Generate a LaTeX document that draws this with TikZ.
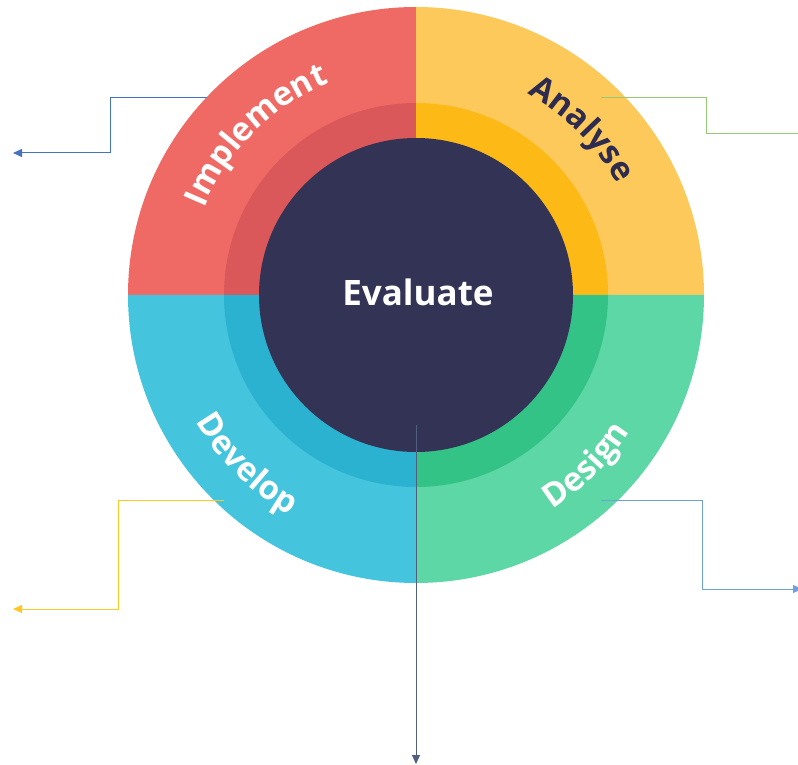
\documentclass[tikz,border=0pt]{standalone}
\usepackage{fontspec}
\setmainfont{Open Sans}
\usetikzlibrary{arrows.meta}
\usetikzlibrary{decorations.text}

\definecolor{implout}{HTML}{F06A65}
\definecolor{implin}{HTML}{DA575A}
\definecolor{anaout}{HTML}{FDC95B}
\definecolor{anain}{HTML}{FDB916}
\definecolor{desout}{HTML}{5DD7A5}
\definecolor{desin}{HTML}{33C387}
\definecolor{devout}{HTML}{45C4DD}
\definecolor{devin}{HTML}{2AB2D0}
\definecolor{evalbg}{HTML}{333355}
\definecolor{darktext}{HTML}{2D2B4F}

\newcommand{\arcfont}{\bfseries\fontsize{33}{33}\selectfont}

\tikzset{
  link/.style={line width=1pt},
  tip/.style={-{Triangle[length=9pt,width=8pt]}},
  arclabel/.style={decorate, decoration={text along path, text align=center, text={#1}}}
}

\begin{document}
\begin{tikzpicture}[x=1pt,y=1pt]
    \clip (0,0) rectangle (798,764); % page size
    \coordinate (c) at (416,469); % centre of the wheel

    % outer quarters
    \fill[implout] (c) -- ++(180:288) arc[start angle=180,end angle=90,radius=288pt] -- cycle;
    \fill[anaout] (c) -- ++(90:288) arc[start angle=90,end angle=0,radius=288pt] -- cycle;
    \fill[desout] (c) -- ++(0:288) arc[start angle=0,end angle=-90,radius=288pt] -- cycle;
    \fill[devout] (c) -- ++(-90:288) arc[start angle=-90,end angle=-180,radius=288pt] -- cycle;
    % inner ring
    \fill[implin] (c) -- ++(180:192) arc[start angle=180,end angle=90,radius=192pt] -- cycle;
    \fill[anain] (c) -- ++(90:192) arc[start angle=90,end angle=0,radius=192pt] -- cycle;
    \fill[desin] (c) -- ++(0:192) arc[start angle=0,end angle=-90,radius=192pt] -- cycle;
    \fill[devin] (c) -- ++(-90:192) arc[start angle=-90,end angle=-180,radius=192pt] -- cycle;
    % centre
    \fill[evalbg] (c) circle (157pt);
    \node[text=white, font=\bfseries\fontsize{35}{35}\selectfont] (evaluate) at (418,472) {Evaluate};

    % labels along the ring
    \path[arclabel={|\arcfont\color{white}|Implement}] ([shift={(175:229)}]c) arc[start angle=175,end angle=95,radius=229pt];
    \path[arclabel={|\arcfont\color{darktext}|Analyse}] ([shift={(85:230)}]c) arc[start angle=85,end angle=5,radius=230pt];
    \path[arclabel={|\arcfont\color{white}|Design}] ([shift={(-85:254)}]c) arc[start angle=-85,end angle=-5,radius=254pt];
    \path[arclabel={|\arcfont\color{white}|Develop}] ([shift={(185:254)}]c) arc[start angle=185,end angle=265,radius=254pt];

    % connectors
    \coordinate (implement) at (207,666);
    \coordinate (implement-end) at (13,611);
    \draw[link, tip, color={rgb,255:red,68;green,114;blue,196}] (implement) -| (110,611) -- (implement-end);
    \coordinate (analyse) at (601,666);
    \coordinate (analyse-end) at (798,630);
    \draw[link, color={rgb,255:red,150;green,200;blue,120}] (analyse) -| (706,630) -- (analyse-end);
    \coordinate (develop) at (224,264);
    \coordinate (develop-end) at (13,155);
    \draw[link, tip, color={rgb,255:red,255;green,200;blue,40}] (develop) -| (118,155) -- (develop-end);
    \coordinate (design) at (601,264);
    \coordinate (design-end) at (802,175);
    \draw[link, tip, color={rgb,255:red,110;green,160;blue,220}] (design) -| (702,175) -- (design-end);
    \coordinate (evaluate-out) at (416,339);
    \coordinate (evaluate-end) at (416,0);
    \draw[link, tip, color={rgb,255:red,80;green,95;blue,125}] (evaluate-out) -- (evaluate-end);
\end{tikzpicture}
\end{document}
